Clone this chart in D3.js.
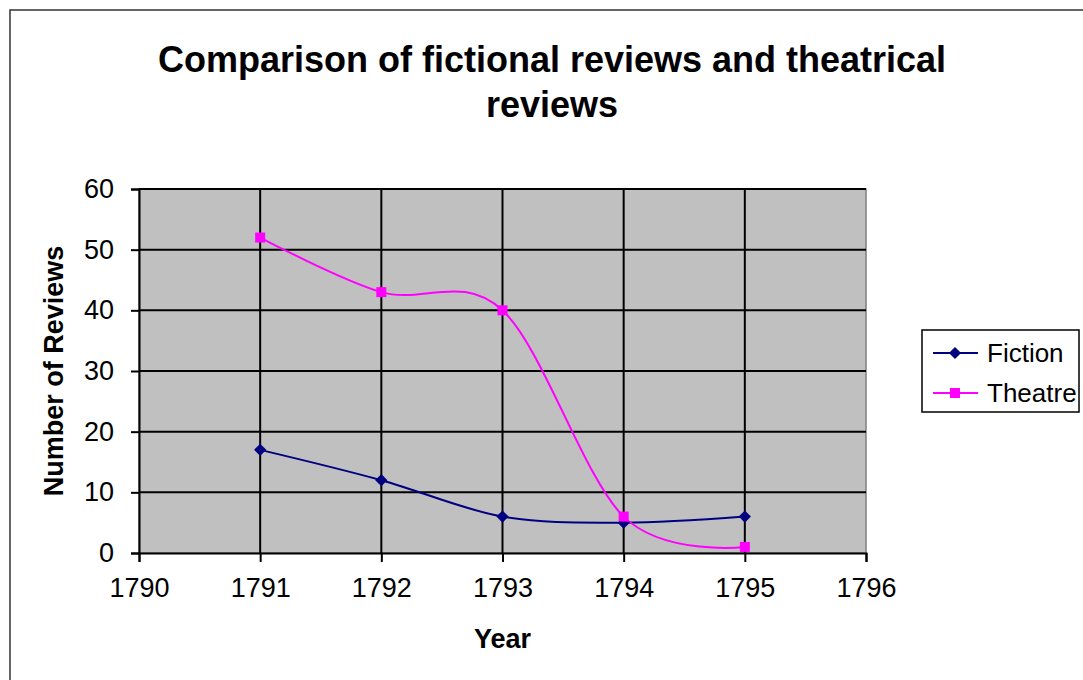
<!DOCTYPE html>
<html>
<head>
<meta charset="utf-8">
<script src="https://cdn.jsdelivr.net/npm/d3@7"></script>
<style>
  body { margin: 0; background: #fff; }
  text { font-family: "Liberation Sans", Arial, sans-serif; fill: #000; }
</style>
</head>
<body>
<div id="chart"></div>
<script>
(function() {

// data
let years = [1791, 1792, 1793, 1794, 1795];
let fiction = [17, 12, 6, 5, 6];
let theatre = [52, 43, 40, 6, 1];
let xTicks = [1790, 1791, 1792, 1793, 1794, 1795, 1796];
let yTicks = [0, 10, 20, 30, 40, 50, 60];
let seriesNames = ["Fiction", "Theatre"];

let W = 1083, H = 680;
let plot = {left: 139, top: 189, right: 866, bottom: 553};

let xScale = d3.scaleLinear().domain([1790, 1796]).range([plot.left, plot.right]);
let yScale = d3.scaleLinear().domain([0, 60]).range([plot.bottom, plot.top]);

let svg = d3.select("#chart").append("svg")
    .attr("width", W)
    .attr("height", H);

// outer chart border (runs off the right and bottom)
svg.append("rect")
    .attr("x", 10).attr("y", 10)
    .attr("width", 1100).attr("height", 700)
    .attr("fill", "#fff")
    .attr("stroke", "#333")
    .attr("stroke-width", 1.5);

// title
let title = svg.append("text")
    .attr("text-anchor", "middle")
    .style("font-size", "36px")
    .style("font-weight", "bold");
title.append("tspan").attr("x", 552).attr("y", 72).text("Comparison of fictional reviews and theatrical");
title.append("tspan").attr("x", 552).attr("y", 117).text("reviews");

// plot background
svg.append("rect")
    .attr("x", plot.left).attr("y", plot.top)
    .attr("width", plot.right - plot.left)
    .attr("height", plot.bottom - plot.top)
    .attr("fill", "#c0c0c0")
    .attr("stroke", "#808080")
    .attr("stroke-width", 1.5);

// gridlines
svg.append("g").selectAll("line")
    .data(yTicks.filter(d => d > 0))
    .join("line")
    .attr("x1", plot.left).attr("x2", plot.right)
    .attr("y1", d => yScale(d)).attr("y2", d => yScale(d))
    .attr("stroke", "#000").attr("stroke-width", 2);

svg.append("g").selectAll("line")
    .data(xTicks.filter(d => d > 1790 && d < 1796))
    .join("line")
    .attr("x1", d => xScale(d)).attr("x2", d => xScale(d))
    .attr("y1", plot.top).attr("y2", plot.bottom)
    .attr("stroke", "#000").attr("stroke-width", 2);

// x axis
let xAxis = svg.append("g")
    .attr("transform", "translate(0," + plot.bottom + ")")
    .call(d3.axisBottom(xScale).tickValues(xTicks).tickFormat(d3.format("d")).tickSize(9).tickPadding(16));
xAxis.select(".domain").attr("stroke", "#000").attr("stroke-width", 2);
xAxis.selectAll(".tick line").attr("stroke", "#000").attr("stroke-width", 2);
xAxis.selectAll("text").style("font-size", "27px").attr("font-family", null);

// y axis
let yAxis = svg.append("g")
    .attr("transform", "translate(" + plot.left + ",0)")
    .call(d3.axisLeft(yScale).tickValues(yTicks).tickSize(8).tickPadding(17));
yAxis.select(".domain").attr("stroke", "#000").attr("stroke-width", 2);
yAxis.selectAll(".tick line").attr("stroke", "#000").attr("stroke-width", 2);
yAxis.selectAll("text").style("font-size", "27px").attr("font-family", null);

// axis titles
svg.append("text")
    .attr("x", (plot.left + plot.right) / 2).attr("y", 648)
    .attr("text-anchor", "middle")
    .style("font-size", "27px").style("font-weight", "bold")
    .text("Year");

svg.append("text")
    .attr("transform", "translate(63," + (plot.top + plot.bottom) / 2 + ") rotate(-90)")
    .attr("text-anchor", "middle")
    .style("font-size", "27px").style("font-weight", "bold")
    .text("Number of Reviews");

// lines (excel-style smoothing)
let line = d3.line()
    .x(d => xScale(d.x))
    .y(d => yScale(d.y))
    .curve(d3.curveCardinal.tension(0));

let dataF = years.map((y, i) => ({x: y, y: fiction[i]}));
let dataT = years.map((y, i) => ({x: y, y: theatre[i]}));

svg.append("path").datum(dataF)
    .attr("fill", "none").attr("stroke", "#000080").attr("stroke-width", 2)
    .attr("d", line);
svg.append("path").datum(dataT)
    .attr("fill", "none").attr("stroke", "#ff00ff").attr("stroke-width", 2)
    .attr("d", line);

let diamond = d3.symbol().type(d3.symbolDiamond2).size(95);

svg.append("g").selectAll("path")
    .data(dataF)
    .join("path")
    .attr("transform", d => "translate(" + xScale(d.x) + "," + yScale(d.y) + ")")
    .attr("d", diamond)
    .attr("fill", "#000080");

svg.append("g").selectAll("rect")
    .data(dataT)
    .join("rect")
    .attr("x", d => xScale(d.x) - 5).attr("y", d => yScale(d.y) - 5)
    .attr("width", 10).attr("height", 10)
    .attr("fill", "#ff00ff");

// legend
let lg = svg.append("g");
lg.append("rect")
    .attr("x", 922).attr("y", 330)
    .attr("width", 157).attr("height", 82)
    .attr("fill", "#fff")
    .attr("stroke", "#000").attr("stroke-width", 1.5);

let colors = ["#000080", "#ff00ff"];
seriesNames.forEach((name, i) => {
    let cy = 353 + i * 40;
    lg.append("line")
        .attr("x1", 933).attr("x2", 978)
        .attr("y1", cy).attr("y2", cy)
        .attr("stroke", colors[i]).attr("stroke-width", 2);
    if (i === 0) {
        lg.append("path")
            .attr("transform", "translate(955," + cy + ")")
            .attr("d", diamond)
            .attr("fill", colors[i]);
    } else {
        lg.append("rect")
            .attr("x", 950).attr("y", cy - 5)
            .attr("width", 10).attr("height", 10)
            .attr("fill", colors[i]);
    }
    lg.append("text")
        .attr("x", 987).attr("y", cy)
        .attr("dy", "0.35em")
        .style("font-size", "26px")
        .text(name);
});

})();
</script>
</body>
</html>
